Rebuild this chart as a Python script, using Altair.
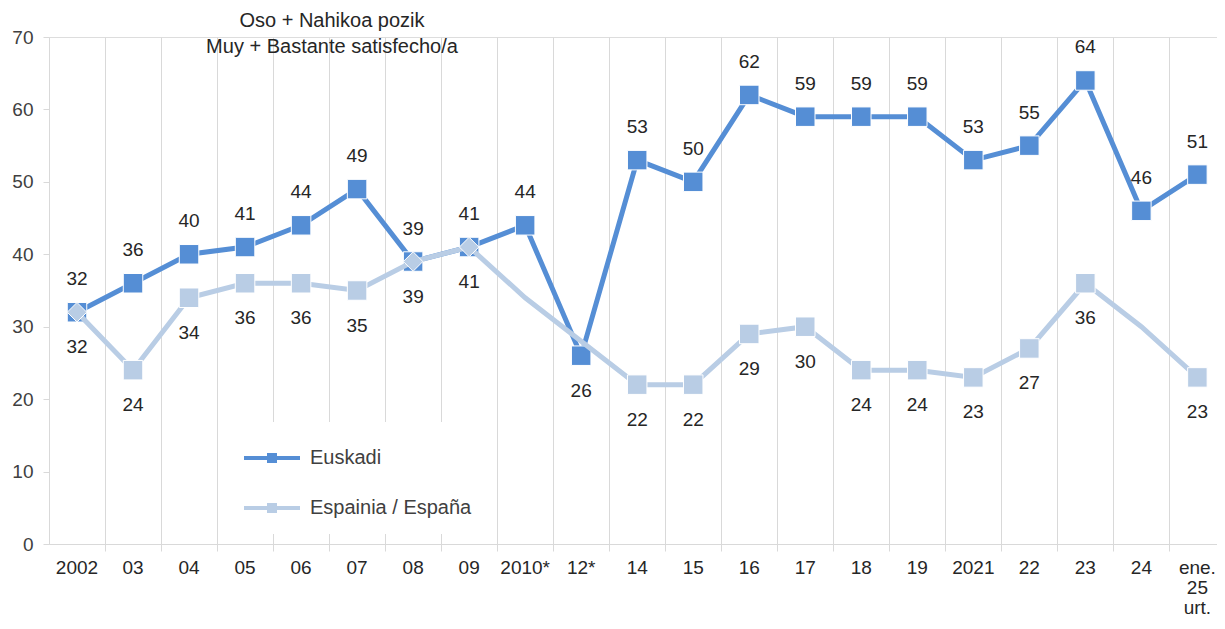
import altair as alt
import pandas as pd

# ---- data ----
categories = ["2002", "03", "04", "05", "06", "07", "08", "09", "2010*", "12*",
              "14", "15", "16", "17", "18", "19", "2021", "22", "23", "24", "ene. 25 urt."]
euskadi = [32, 36, 40, 41, 44, 49, 39, 41, 44, 26, 53, 50, 62, 59, 59, 59, 53, 55, 64, 46, 51]
espana = [32, 24, 34, 36, 36, 35, 39, 41, 34, 28, 22, 22, 29, 30, 24, 24, 23, 27, 36, 30, 23]
# points of the Spain series drawn with a marker and a value label
espana_marked = [True, True, True, True, True, True, True, True, False, False,
                 True, True, True, True, True, True, True, True, True, False, True]
euskadi_label_below = ["12*"]
series_names = ["Euskadi", "Espainia / España"]
series_colors = ["#558ED5", "#B9CDE5"]
title_lines = "Oso + Nahikoa pozik\nMuy + Bastante  satisfecho/a"
y_ticks = [0, 10, 20, 30, 40, 50, 60, 70]

W, H = 1168, 507
FONT = "Liberation Sans"

rows = []
for i, c in enumerate(categories):
    rows.append(dict(idx=i, cat=c, series=series_names[0], value=euskadi[i], marked=True,
                     shp="square", pos="below" if c in euskadi_label_below else "above"))
    rows.append(dict(idx=i, cat=c, series=series_names[1], value=espana[i], marked=espana_marked[i],
                     shp="diamond" if espana[i] == euskadi[i] else "square", pos="below"))
df = pd.DataFrame(rows)
cats_df = pd.DataFrame({"idx": list(range(len(categories))), "cat": categories})

legend_path = ("M-1.4,-0.1 H-0.25 V-0.25 H0.25 V-0.1 H1.4 V0.1 H0.25 V0.25 H-0.25 "
               "V0.1 H-1.4 Z")

xenc = alt.X("idx:Q",
             scale=alt.Scale(domain=[-0.5, len(categories) - 0.65], nice=False, zero=False),
             axis=alt.Axis(values=[i + 0.5 for i in range(len(categories) - 1)], labels=False,
                           title=None, grid=True, gridColor="#d9d9d9", gridWidth=1,
                           tickColor="#d9d9d9", tickSize=7, domainColor="#d9d9d9"))
yenc = alt.Y("value:Q", scale=alt.Scale(domain=[0, 70], nice=False, zero=True),
             axis=alt.Axis(values=y_ticks, grid=False, title=None, tickSize=6, labelPadding=10,
                           labelFontSize=19, labelFont=FONT, labelColor="#404040",
                           domainColor="#d9d9d9", tickColor="#d9d9d9"))
color = alt.Color("series:N",
                  scale=alt.Scale(domain=series_names, range=series_colors),
                  legend=alt.Legend(orient="none", legendX=187, legendY=385, title=None,
                                    symbolType=legend_path, symbolSize=1600,
                                    symbolStrokeWidth=0, symbolOpacity=1,
                                    labelFontSize=20, labelFont=FONT, labelColor="#404040",
                                    labelOffset=18, labelLimit=400, rowPadding=20, padding=16,
                                    fillColor="white"))

base = alt.Chart(df)
eus = base.transform_filter(alt.datum.series == series_names[0])
esp = base.transform_filter(alt.datum.series == series_names[1])

eus_line = eus.mark_line(strokeWidth=5).encode(x=xenc, y=yenc, color=color, order="idx:Q")
eus_pts = eus.mark_point(filled=True, size=380, opacity=1, stroke="white", strokeWidth=1).encode(
    x=xenc, y=yenc, color=color, shape=alt.Shape("shp:N", scale=None, legend=None))
esp_line = esp.mark_line(strokeWidth=5).encode(x=xenc, y=yenc, color=color, order="idx:Q")
esp_pts = esp.transform_filter(alt.datum.marked).mark_point(
    filled=True, size=380, opacity=1, stroke="white", strokeWidth=1).encode(
    x=xenc, y=yenc, color=color, shape=alt.Shape("shp:N", scale=None, legend=None))

lbl_kw = dict(fontSize=19, font=FONT, color="#262626", baseline="middle")
lab_above = eus.transform_filter(alt.datum.pos == "above").mark_text(dy=-33, **lbl_kw).encode(
    x=xenc, y=yenc, text="value:Q")
lab_below = base.transform_filter(alt.datum.marked).transform_filter(
    alt.datum.pos == "below").mark_text(dy=35, **lbl_kw).encode(x=xenc, y=yenc, text="value:Q")

xlabels = alt.Chart(cats_df).mark_text(fontSize=19, font=FONT, color="#262626", baseline="top",
                                       lineBreak=" ", lineHeight=20).encode(
    x=xenc, y=alt.value(H + 15), text="cat:N")

title = alt.Chart(pd.DataFrame({"t": [title_lines]})).mark_text(
    fontSize=20, font=FONT, color="#262626", baseline="top", align="center",
    lineBreak="\n", lineHeight=26).encode(x=alt.value(283), y=alt.value(-26), text="t:N")

chart = alt.layer(eus_line, eus_pts, esp_line, esp_pts, lab_above, lab_below, xlabels, title).properties(
    width=W, height=H,
    autosize=alt.AutoSizeParams(type="none"),
    padding={"left": 41, "top": 29, "right": 0, "bottom": 76},
).configure_view(stroke=None).configure(background="white")

chart.save("out.html", embed_options={"renderer": "svg", "actions": False})
